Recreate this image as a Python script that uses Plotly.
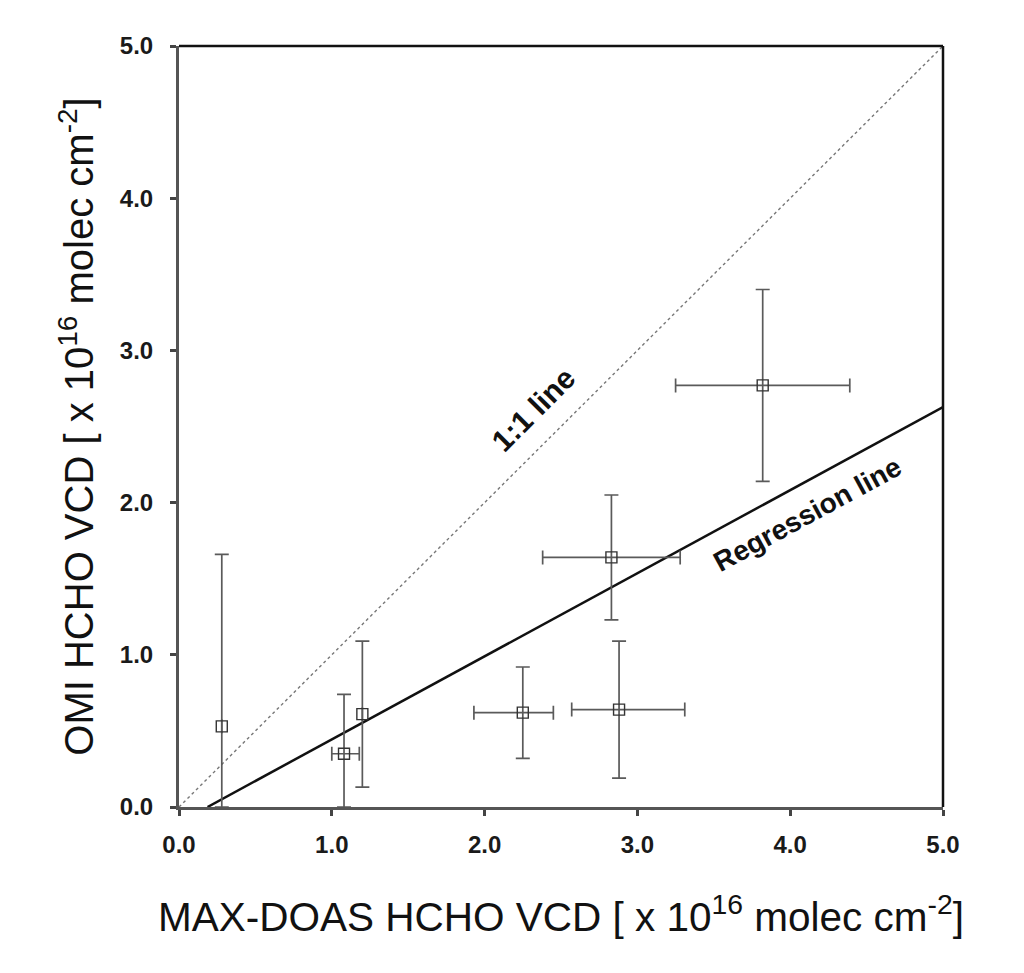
import plotly.graph_objects as go

# Data
maxdoas_x = [0.28, 1.08, 1.20, 2.25, 2.88, 2.83, 3.82]
omi_y = [0.53, 0.35, 0.61, 0.62, 0.64, 1.64, 2.77]
x_err_plus = [0.0, 0.10, 0.0, 0.20, 0.43, 0.45, 0.57]
x_err_minus = [0.0, 0.08, 0.0, 0.32, 0.31, 0.45, 0.57]
y_err_plus = [1.13, 0.39, 0.48, 0.30, 0.45, 0.41, 0.63]
y_err_minus = [0.53, 0.35, 0.48, 0.30, 0.45, 0.41, 0.63]

reg_slope = 0.546
reg_intercept = -0.102

axis_min = 0.0
axis_max = 5.0
tick_vals = [0, 1, 2, 3, 4, 5]
tick_text = ["0.0", "1.0", "2.0", "3.0", "4.0", "5.0"]

FONT = "Arial, Liberation Sans, sans-serif"

fig = go.Figure()

# 1:1 line
fig.add_trace(go.Scatter(
    x=[axis_min, axis_max], y=[axis_min, axis_max], mode="lines",
    line=dict(color="#777777", width=1.4, dash="dot"), showlegend=False,
    hoverinfo="skip"))

# Regression line
x0_reg = -reg_intercept / reg_slope
fig.add_trace(go.Scatter(
    x=[x0_reg, axis_max],
    y=[reg_slope * x0_reg + reg_intercept, reg_slope * axis_max + reg_intercept],
    mode="lines", line=dict(color="#111111", width=2.5), showlegend=False,
    hoverinfo="skip"))

# Data points with error bars
fig.add_trace(go.Scatter(
    x=maxdoas_x, y=omi_y, mode="markers",
    marker=dict(symbol="square-open", size=11, color="#333333", line=dict(width=1.4)),
    error_x=dict(type="data", symmetric=False, array=x_err_plus, arrayminus=x_err_minus,
                 color="#5a5a5a", thickness=1.7, width=7),
    error_y=dict(type="data", symmetric=False, array=y_err_plus, arrayminus=y_err_minus,
                 color="#5a5a5a", thickness=1.7, width=7),
    showlegend=False))

axis_common = dict(
    range=[axis_min, axis_max], tickvals=tick_vals, ticktext=tick_text,
    showgrid=False, zeroline=False, showline=True, linecolor="#555555", linewidth=3,
    mirror=False, ticks="outside", ticklen=6, tickwidth=2.5, tickcolor="#444444",
    tickfont=dict(family=FONT, size=24, color="#1a1a1a", weight="bold"),
)

fig.update_layout(
    width=1024, height=973,
    margin=dict(l=171, r=89, t=38, b=174),
    plot_bgcolor="white", paper_bgcolor="white",
    xaxis=dict(**axis_common, ticklabelstandoff=8,
               title=dict(text="MAX-DOAS HCHO VCD [ x 10<sup>16</sup> molec cm<sup>-2</sup>]",
                          font=dict(family=FONT, size=40.5, color="#111111"),
                          standoff=46)),
    yaxis=dict(**axis_common, ticklabelstandoff=12,
               title=dict(text="OMI HCHO VCD [ x 10<sup>16</sup> molec cm<sup>-2</sup>]",
                          font=dict(family=FONT, size=40, color="#111111"),
                          standoff=14)),
    shapes=[
        dict(type="line", xref="paper", yref="paper", x0=0, x1=1, y0=1, y1=1,
             line=dict(color="#111111", width=2.5)),
        dict(type="line", xref="paper", yref="paper", x0=1, x1=1, y0=0, y1=1,
             line=dict(color="#111111", width=2.5)),
    ],
    annotations=[
        dict(x=2.32, y=2.61, xref="x", yref="y", text="<b>1:1 line</b>", showarrow=False,
             textangle=-45, font=dict(family=FONT, size=30, color="#111111")),
        dict(x=4.11, y=1.925, xref="x", yref="y", text="<b>Regression line</b>", showarrow=False,
             textangle=-28.5, font=dict(family=FONT, size=28, color="#111111")),
    ],
)

fig.write_html("out.html")
